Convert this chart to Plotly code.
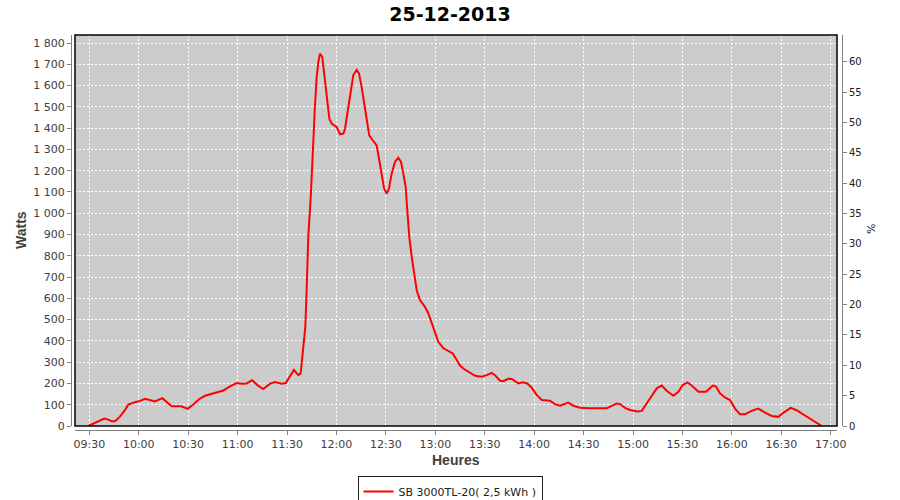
import plotly.graph_objects as go

DAY = "2013-12-25"
times = [
    "09:29:24", "09:34:30", "09:39:06", "09:41:30", "09:43:36", "09:45:36", "09:48:36", "09:51:42",
    "09:53:42", "09:57:42", "10:00:48", "10:03:48", "10:06:48", "10:09:54", "10:14:18", "10:17:00",
    "10:20:00", "10:25:42", "10:29:42", "10:33:06", "10:36:36", "10:40:12", "10:44:18", "10:48:18",
    "10:51:24", "10:55:24", "10:59:30", "11:02:30", "11:05:30", "11:08:54", "11:12:12", "11:15:36",
    "11:19:42", "11:22:42", "11:26:48", "11:29:12", "11:31:48", "11:34:12", "11:36:54", "11:38:18",
    "11:39:30", "11:40:18", "11:41:06", "11:41:54", "11:42:54", "11:44:24", "11:45:12", "11:46:00",
    "11:46:48", "11:48:00", "11:49:00", "11:50:00", "11:51:24", "11:52:30", "11:53:42", "11:54:30",
    "11:55:42", "11:57:06", "12:00:12", "12:02:12", "12:04:12", "12:05:12", "12:06:36", "12:08:12",
    "12:10:12", "12:12:18", "12:13:42", "12:15:18", "12:16:42", "12:18:18", "12:19:54", "12:22:00",
    "12:24:24", "12:26:00", "12:27:30", "12:28:54", "12:30:30", "12:31:54", "12:33:30", "12:35:30",
    "12:37:30", "12:39:12", "12:40:36", "12:42:00", "12:43:00", "12:44:12", "12:45:42", "12:47:06",
    "12:48:42", "12:50:42", "12:53:42", "12:55:48", "12:57:48", "12:59:48", "13:01:48", "13:04:54",
    "13:08:00", "13:10:36", "13:13:00", "13:15:00", "13:17:24", "13:21:06", "13:24:06", "13:28:12",
    "13:31:12", "13:34:12", "13:36:12", "13:39:18", "13:41:18", "13:44:18", "13:46:24", "13:50:24",
    "13:53:00", "13:55:48", "13:58:30", "14:01:30", "14:04:36", "14:09:36", "14:12:36", "14:15:42",
    "14:18:42", "14:20:42", "14:23:48", "14:27:48", "14:33:54", "14:38:54", "14:44:00", "14:47:06",
    "14:50:06", "14:52:06", "14:55:06", "14:58:12", "15:02:36", "15:05:18", "15:08:18", "15:11:18",
    "15:14:24", "15:17:24", "15:20:24", "15:24:30", "15:27:30", "15:30:12", "15:33:00", "15:35:36",
    "15:39:42", "15:44:18", "15:48:24", "15:50:24", "15:52:48", "15:55:48", "15:58:54", "16:01:54",
    "16:04:54", "16:07:54", "16:12:00", "16:16:00", "16:20:06", "16:24:12", "16:28:12", "16:31:12",
    "16:35:42", "16:39:18", "16:43:24", "16:48:30", "16:54:36",
]
watts = [
    0, 19, 35, 30, 22, 22, 44, 76,
    101, 112, 118, 128, 123, 115, 131, 115,
    93, 93, 81, 101, 126, 142, 150, 160,
    167, 186, 202, 199, 200, 215, 191, 174,
    199, 207, 199, 202, 237, 263, 239, 247,
    341, 404, 466, 638, 889, 1077, 1186, 1343,
    1484, 1640, 1710, 1750, 1734, 1656, 1562, 1499,
    1444, 1421, 1405, 1371, 1374, 1397, 1468, 1562,
    1648, 1674, 1656, 1593, 1530, 1452, 1366, 1343,
    1319, 1249, 1171, 1116, 1092, 1116, 1186, 1241,
    1261, 1241, 1186, 1124, 1014, 889, 795, 717,
    638, 592, 560, 529, 482, 435, 396, 365,
    354, 341, 310, 284, 268, 252, 236, 232,
    239, 250, 239, 213, 211, 222, 221, 200,
    205, 200, 180, 146, 122, 119, 103, 95,
    106, 110, 95, 86, 83, 83, 83, 95,
    106, 103, 85, 75, 68, 71, 103, 141,
    177, 190, 166, 142, 161, 193, 205, 190,
    161, 161, 190, 185, 153, 134, 122, 82,
    55, 55, 71, 82, 63, 47, 43, 62,
    85, 74, 54, 30, 0,
]
series_name = "SB 3000TL-20( 2,5 kWh )"
title_text = "25-12-2013"
x_range = ["09:21:19", "17:03:48"]
watts_range = [0, 1837.6]
pct_range = [0, 64.4]

W, H = 900, 500


def px(v):  # pixel x -> paper fraction
    return v / W


def py(v):  # pixel y (from top) -> paper fraction
    return (H - v) / H


x_dates = [f"{DAY} {t}" for t in times]

fig = go.Figure()
fig.add_trace(go.Scatter(
    x=x_dates, y=watts, mode="lines", name=series_name,
    line=dict(color="#ff0000", width=2), yaxis="y", xaxis="x",
))
fig.add_trace(go.Scatter(x=[x_dates[0]], y=[None], yaxis="y2", xaxis="x",
                         showlegend=False, hoverinfo="skip"))

tickfont = dict(family="DejaVu Sans", size=11, color="#404040")
fig.update_layout(
    width=W, height=H,
    margin=dict(l=0, r=0, t=0, b=0, autoexpand=False),
    paper_bgcolor="white",
    plot_bgcolor="#cccccc",
    separators=", ",
    showlegend=True,
    title=dict(text=f"<b>{title_text}</b>", x=px(450), xanchor="center",
               y=py(14), yanchor="middle",
               font=dict(family="DejaVu Sans", size=19, color="black")),
    xaxis=dict(
        type="date", domain=[px(75), px(837)], anchor="free", position=py(430),
        range=[f"{DAY} {x_range[0]}", f"{DAY} {x_range[1]}"],
        tick0=f"{DAY} 09:30", dtick=1800000, tickformat="%H:%M",
        showline=True, linecolor="#808080", linewidth=1,
        ticks="outside", ticklen=4, tickcolor="#808080", tickwidth=1,
        tickfont=tickfont,
        showgrid=True, gridcolor="white", griddash="2px,2px", gridwidth=1,
        zeroline=False, automargin=False,
    ),
    yaxis=dict(
        domain=[py(426), py(35)], anchor="free", position=px(71),
        range=watts_range, dtick=100, tickformat=",d",
        showline=True, linecolor="#808080", linewidth=1,
        ticks="outside", ticklen=4, tickcolor="#808080", tickwidth=1,
        tickfont=tickfont,
        showgrid=True, gridcolor="white", griddash="2px,2px", gridwidth=1,
        zeroline=False, automargin=False,
    ),
    yaxis2=dict(
        overlaying="y", side="right", anchor="free", position=px(842),
        range=pct_range, dtick=5,
        showline=True, linecolor="#808080", linewidth=1,
        ticks="outside", ticklen=4, tickcolor="#808080", tickwidth=1,
        tickfont=dict(family="DejaVu Sans", size=10, color="#202020"),
        showgrid=False, zeroline=False, automargin=False,
    ),
    legend=dict(
        x=px(450), xanchor="center", y=py(476), yanchor="top",
        orientation="h", bgcolor="white", bordercolor="#222222", borderwidth=1,
        font=dict(family="DejaVu Sans", size=11, color="#202020"),
        itemwidth=30, tracegroupgap=0,
    ),
    shapes=[dict(type="rect", xref="paper", yref="paper",
                 x0=px(75), x1=px(837), y0=py(426), y1=py(35),
                 line=dict(color="black", width=1.5), layer="above")],
    annotations=[
        dict(text="<b>Watts</b>", xref="paper", yref="paper", x=px(21), y=py(230),
             textangle=-90, showarrow=False, xanchor="center", yanchor="middle",
             font=dict(family="Liberation Sans", size=14, color="#404040")),
        dict(text="<b>Heures</b>", xref="paper", yref="paper", x=px(456), y=py(460),
             showarrow=False, xanchor="center", yanchor="middle",
             font=dict(family="Liberation Sans", size=14, color="#404040")),
        dict(text="%", xref="paper", yref="paper", x=px(872), y=py(229),
             textangle=-90, showarrow=False, xanchor="center", yanchor="middle",
             font=dict(family="DejaVu Sans", size=11, color="#202020")),
    ],
)

# Remove the browser's default 8px body margin so the 900x500 figure fills the window exactly.
fig.write_html("out.html", config={"displayModeBar": False},
               post_script="document.body.style.margin='0px';")
